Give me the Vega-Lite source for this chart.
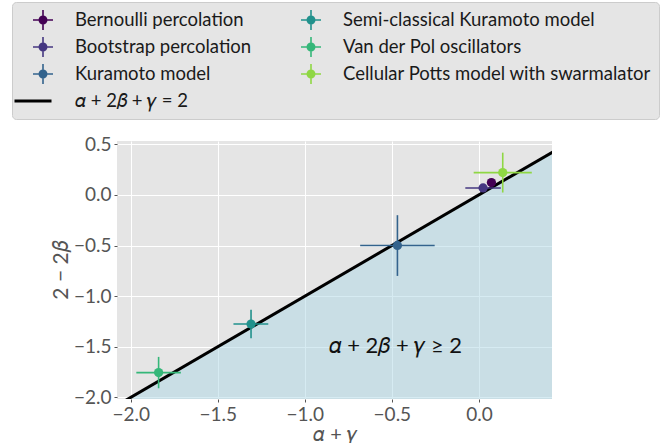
{
  "$schema": "https://vega.github.io/schema/vega-lite/v6.json",
  "width": 435,
  "height": 258,
  "autosize": {"type": "none"},
  "padding": {"left": 117, "top": 141, "right": 120, "bottom": 44},
  "background": "white",
  "config": {
    "view": {"fill": "#e5e5e5", "stroke": null},
    "font": "Lato",
    "axis": {
      "domain": false, "grid": true, "gridColor": "#ffffff", "gridWidth": 1,
      "tickColor": "#555555", "tickSize": 3, "labelPadding": 3,
      "labelColor": "#555555", "labelFontSize": 19, "labelFont": "Lato",
      "titleColor": "#555555", "titleFontSize": 21, "titleFont": "Lato", "titleFontWeight": "normal"
    }
  },
  "datasets": {
    "pts": [
      {"series": "Bernoulli percolation", "x": 0.072, "y": 0.122, "xlo": 0.05, "xhi": 0.094, "ylo": 0.1, "yhi": 0.144},
      {"series": "Bootstrap percolation", "x": 0.024, "y": 0.069, "xlo": -0.078, "xhi": 0.126, "ylo": 0.04, "yhi": 0.1},
      {"series": "Kuramoto model", "x": -0.468, "y": -0.499, "xlo": -0.682, "xhi": -0.254, "ylo": -0.8, "yhi": -0.2},
      {"series": "Semi-classical Kuramoto model", "x": -1.309, "y": -1.275, "xlo": -1.41, "xhi": -1.21, "ylo": -1.415, "yhi": -1.135},
      {"series": "Van der Pol oscillators", "x": -1.84, "y": -1.755, "xlo": -1.968, "xhi": -1.712, "ylo": -1.91, "yhi": -1.6},
      {"series": "Cellular Potts model with swarmalator", "x": 0.137, "y": 0.221, "xlo": -0.03, "xhi": 0.304, "ylo": 0.024, "yhi": 0.418}
    ],
    "diag": [
      {"lx": -2.3, "ly": -2.3},
      {"lx": 0.7, "ly": 0.7}
    ],
    "note": [
      {"label": "𝛼 + 2𝛽 + 𝛾 ≥ 2", "tx": -0.48, "ty": -1.49}
    ]
  },
  "layer": [
    {
      "data": {"name": "diag"},
      "mark": {"type": "area", "clip": true, "color": "#add8e6", "opacity": 0.5},
      "encoding": {
        "x": {"field": "lx", "type": "quantitative",
              "scale": {"domain": [-2.079, 0.42], "nice": false, "zero": false},
              "axis": {"values": [-2, -1.5, -1, -0.5, 0], "format": ".1f", "title": "𝛼 + 𝛾", "titlePadding": 0, "titleFontSize": 20}},
        "y": {"field": "ly", "type": "quantitative",
              "scale": {"domain": [-2.016, 0.533], "nice": false, "zero": false},
              "axis": {"values": [-2, -1.5, -1, -0.5, 0, 0.5], "format": ".1f", "title": "2 − 2𝛽", "titlePadding": 2}},
        "y2": {"datum": -3}
      }
    },
    {
      "data": {"name": "diag"},
      "mark": {"type": "line", "clip": true, "color": "#000000", "strokeWidth": 3},
      "encoding": {
        "x": {"field": "lx", "type": "quantitative"},
        "y": {"field": "ly", "type": "quantitative"}
      }
    },
    {
      "data": {"name": "pts"},
      "mark": {"type": "point", "filled": true, "opacity": 0},
      "encoding": {
        "x": {"field": "x", "type": "quantitative"},
        "y": {"field": "y", "type": "quantitative"},
        "color": {
          "field": "series", "type": "nominal",
          "scale": {
            "domain": ["Bernoulli percolation", "Bootstrap percolation", "Kuramoto model", "𝛼 + 2𝛽 + 𝛾 = 2", "Semi-classical Kuramoto model", "Van der Pol oscillators", "Cellular Potts model with swarmalator"],
            "range": ["#440154", "#453781", "#33638d", "#000000", "#21918c", "#35b779", "#8fd744"]
          },
          "legend": {
            "title": null, "orient": "none", "legendX": -105, "legendY": -139, "columns": 2,
            "fillColor": "#e5e5e5", "strokeColor": "#cccccc", "padding": 8, "cornerRadius": 4,
            "labelFontSize": 18.5, "labelFont": "Lato", "labelColor": "#1a1a1a", "labelLimit": 400,
            "symbolSize": 400, "symbolOffset": 13, "labelOffset": 22, "rowPadding": 7, "columnPadding": 36,
            "symbolStrokeWidth": 0,
            "encode": {"symbols": {"update": {"opacity": {"value": 1}, "strokeWidth": {"value": 0}}}}
          }
        },
        "shape": {
          "field": "series", "type": "nominal",
          "scale": {
            "domain": ["Bernoulli percolation", "Bootstrap percolation", "Kuramoto model", "𝛼 + 2𝛽 + 𝛾 = 2", "Semi-classical Kuramoto model", "Van der Pol oscillators", "Cellular Potts model with swarmalator"],
            "range": [
              "M-1,-0.08H1V0.08H-1Z M-0.08,-1H0.08V1H-0.08Z M-0.45,0A0.45,0.45 0 1,1 0.45,0A0.45,0.45 0 1,1 -0.45,0Z",
              "M-1,-0.08H1V0.08H-1Z M-0.08,-1H0.08V1H-0.08Z M-0.45,0A0.45,0.45 0 1,1 0.45,0A0.45,0.45 0 1,1 -0.45,0Z",
              "M-1,-0.08H1V0.08H-1Z M-0.08,-1H0.08V1H-0.08Z M-0.45,0A0.45,0.45 0 1,1 0.45,0A0.45,0.45 0 1,1 -0.45,0Z",
              "M-2.85,-0.15H0.85V0.15H-2.85Z",
              "M-1,-0.08H1V0.08H-1Z M-0.08,-1H0.08V1H-0.08Z M-0.45,0A0.45,0.45 0 1,1 0.45,0A0.45,0.45 0 1,1 -0.45,0Z",
              "M-1,-0.08H1V0.08H-1Z M-0.08,-1H0.08V1H-0.08Z M-0.45,0A0.45,0.45 0 1,1 0.45,0A0.45,0.45 0 1,1 -0.45,0Z",
              "M-1,-0.08H1V0.08H-1Z M-0.08,-1H0.08V1H-0.08Z M-0.45,0A0.45,0.45 0 1,1 0.45,0A0.45,0.45 0 1,1 -0.45,0Z"
            ]
          }
        }
      }
    },
    {
      "data": {"name": "pts"},
      "mark": {"type": "rule", "strokeWidth": 1.6},
      "encoding": {
        "x": {"field": "xlo", "type": "quantitative"},
        "x2": {"field": "xhi"},
        "y": {"field": "y", "type": "quantitative"},
        "color": {"field": "series", "type": "nominal", "legend": null}
      }
    },
    {
      "data": {"name": "pts"},
      "mark": {"type": "rule", "strokeWidth": 1.6},
      "encoding": {
        "x": {"field": "x", "type": "quantitative"},
        "y": {"field": "ylo", "type": "quantitative"},
        "y2": {"field": "yhi"},
        "color": {"field": "series", "type": "nominal", "legend": null}
      }
    },
    {
      "data": {"name": "pts"},
      "mark": {"type": "point", "filled": true, "shape": "circle", "size": 85, "opacity": 1},
      "encoding": {
        "x": {"field": "x", "type": "quantitative"},
        "y": {"field": "y", "type": "quantitative"},
        "color": {"field": "series", "type": "nominal", "legend": null}
      }
    },
    {
      "data": {"name": "note"},
      "mark": {"type": "text", "fontSize": 22, "font": "Lato", "color": "#111111", "align": "center", "baseline": "middle"},
      "encoding": {
        "x": {"field": "tx", "type": "quantitative"},
        "y": {"field": "ty", "type": "quantitative"},
        "text": {"field": "label"}
      }
    }
  ]
}
